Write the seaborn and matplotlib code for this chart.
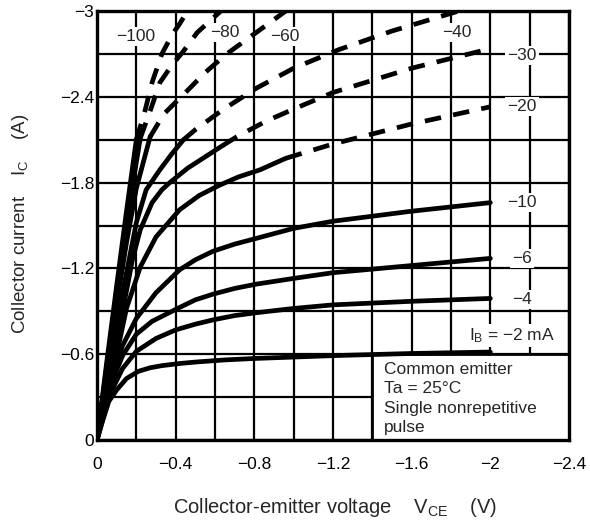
import numpy as np
import pandas as pd
import seaborn as sns
import matplotlib.pyplot as plt
from matplotlib.patches import Rectangle

sns.set_style('white')
plt.rcParams['font.family'] = ['Liberation Sans', 'DejaVu Sans']
plt.rcParams['mathtext.default'] = 'regular'

# Ic - Vce output curves, magnitudes (V, A)
ib_levels = ['-2', '-4', '-6', '-10', '-20', '-30', '-40', '-60', '-80', '-100']

v_ib2 = [0, 0.03, 0.06, 0.10, 0.15, 0.21, 0.27, 0.33, 0.42, 0.5, 0.65, 0.8, 1.0, 1.2, 1.6, 2.0]
i_ib2 = [0, 0.14, 0.27, 0.35, 0.43, 0.48, 0.505, 0.52, 0.535, 0.545, 0.56, 0.57, 0.58, 0.59, 0.605, 0.615]

v_ib4 = [0, 0.04, 0.08, 0.13, 0.2, 0.3, 0.4, 0.5, 0.59, 0.7, 0.81, 1.0, 1.2, 1.6, 2.0]
i_ib4 = [0, 0.2, 0.36, 0.5, 0.62, 0.71, 0.77, 0.81, 0.84, 0.87, 0.89, 0.92, 0.945, 0.97, 0.99]

v_ib6 = [0, 0.04, 0.08, 0.13, 0.2, 0.28, 0.41, 0.5, 0.59, 0.7, 0.81, 1.0, 1.2, 1.6, 2.0]
i_ib6 = [0, 0.22, 0.42, 0.59, 0.74, 0.83, 0.92, 0.98, 1.02, 1.06, 1.09, 1.13, 1.17, 1.22, 1.27]

v_ib10 = [0, 0.04, 0.08, 0.13, 0.2, 0.3, 0.42, 0.5, 0.59, 0.7, 0.81, 1.0, 1.2, 1.6, 2.0]
i_ib10 = [0, 0.24, 0.46, 0.66, 0.85, 1.03, 1.19, 1.26, 1.32, 1.37, 1.41, 1.48, 1.53, 1.6, 1.66]

v_ib20 = [0, 0.05, 0.1, 0.15, 0.22, 0.3, 0.42, 0.52, 0.62, 0.72, 0.83, 0.96, 1.2, 1.6, 2.0]
i_ib20 = [0, 0.3, 0.6, 0.92, 1.21, 1.42, 1.61, 1.71, 1.78, 1.84, 1.89, 1.97, 2.07, 2.21, 2.33]

v_ib30 = [0, 0.05, 0.1, 0.14, 0.18, 0.22, 0.28, 0.33, 0.37, 0.46, 0.55, 0.64,
          0.71, 0.86, 1.01, 1.2, 1.6, 1.98]
i_ib30 = [0, 0.33, 0.68, 0.97, 1.26, 1.47, 1.66, 1.75, 1.8, 1.9, 1.98, 2.06,
          2.12, 2.23, 2.32, 2.43, 2.6, 2.73]

v_ib40 = [0, 0.05, 0.1, 0.14, 0.17, 0.2, 0.25, 0.32, 0.38, 0.44,
          0.5, 0.64, 0.81, 1.0, 1.23, 1.5, 1.84]
i_ib40 = [0, 0.4, 0.8, 1.1, 1.31, 1.52, 1.75, 1.89, 2.0, 2.1,
          2.17, 2.31, 2.46, 2.6, 2.73, 2.86, 3.0]

v_ib60 = [0, 0.05, 0.1, 0.15, 0.2, 0.27, 0.34, 0.45, 0.55, 0.66, 0.78, 0.96]
i_ib60 = [0, 0.48, 0.95, 1.38, 1.76, 2.12, 2.28, 2.43, 2.57, 2.7, 2.82, 3.0]

v_ib80 = [0, 0.05, 0.1, 0.15, 0.22, 0.27, 0.32, 0.38, 0.44, 0.51, 0.63]
i_ib80 = [0, 0.52, 1.03, 1.52, 2.11, 2.3, 2.5, 2.62, 2.72, 2.85, 3.0]

v_ib100 = [0, 0.05, 0.1, 0.15, 0.2, 0.24, 0.28, 0.33, 0.38, 0.42, 0.46]
i_ib100 = [0, 0.55, 1.08, 1.6, 2.1, 2.28, 2.5, 2.7, 2.83, 2.91, 3.0]

# voltage where each curve turns dashed (None = solid all the way)
knee_v = [None, None, None, None, 0.96, 0.64, 0.44, 0.27, 0.22, 0.2]

x_ticks = [0, -0.4, -0.8, -1.2, -1.6, -2.0, -2.4]
x_ticklabels = ['0', '\u22120.4', '\u22120.8', '\u22121.2', '\u22121.6', '\u22122', '\u22122.4']
y_ticks = [0, -0.6, -1.2, -1.8, -2.4, -3.0]
y_ticklabels = ['0', '\u22120.6', '\u22121.2', '\u22121.8', '\u22122.4', '\u22123']

curves = [(v_ib2, i_ib2), (v_ib4, i_ib4), (v_ib6, i_ib6), (v_ib10, i_ib10),
          (v_ib20, i_ib20), (v_ib30, i_ib30), (v_ib40, i_ib40),
          (v_ib60, i_ib60), (v_ib80, i_ib80), (v_ib100, i_ib100)]

rows = []
for ib, (v, i), knee in zip(ib_levels, curves, knee_v):
    for vv, ii in zip(v, i):
        if knee is None or vv <= knee:
            rows.append((ib + ' solid', 'solid', -vv, -ii))
        if knee is not None and vv >= knee:
            rows.append((ib + ' dashed', 'dashed', -vv, -ii))
df = pd.DataFrame(rows, columns=['seg', 'part', 'V', 'I'])

fig = plt.figure(figsize=(5.9, 5.21), dpi=100)
ax = fig.add_axes([97 / 590, 1 - 440 / 521, 472 / 590, 429 / 521])

sns.lineplot(data=df, x='V', y='I', units='seg', estimator=None, sort=False,
             style='part', dashes={'solid': '', 'dashed': (3.5, 2.6)},
             color='black', lw=3.4, legend=False, ax=ax, zorder=4)

ax.set_xlim(0, -2.4)
ax.set_ylim(0, -3)
ax.set_xticks(x_ticks)
ax.set_xticklabels(x_ticklabels)
ax.set_xticks(np.arange(0, -2.41, -0.2), minor=True)
ax.set_yticks(y_ticks)
ax.set_yticklabels(y_ticklabels)
ax.set_yticks(np.arange(0, -3.01, -0.3), minor=True)
ax.grid(which='both', color='black', lw=1.6)
ax.set_axisbelow(True)
ax.tick_params(which='both', length=0, labelsize=12.5, colors='black')
ax.tick_params(axis='x', pad=12)
ax.tick_params(axis='y', pad=2)
for s in ax.spines.values():
    s.set_color('black')
    s.set_linewidth(2.4)
    s.set_zorder(6)

ax.add_patch(Rectangle((-1.4, 0), -1.0, -0.6, facecolor='white',
                       edgecolor='black', lw=2, zorder=3))
ax.text(-1.46, -0.545, 'Common emitter\nTa = 25\u00b0C\nSingle nonrepetitive\npulse',
        ha='left', va='top', fontsize=12.5, linespacing=1.36, zorder=5)

box = dict(facecolor='white', edgecolor='none', pad=1.5)
for x, y, s in [(-2.16, -2.69, '\u221230'), (-2.16, -2.33, '\u221220'),
                (-2.16, -1.66, '\u221210'), (-2.16, -1.27, '\u22126'),
                (-2.16, -0.98, '\u22124'), (-0.195, -2.82, '\u2212100'),
                (-0.65, -2.85, '\u221280'), (-0.955, -2.82, '\u221260'),
                (-1.83, -2.85, '\u221240')]:
    ax.text(x, y, s, ha='center', va='center', fontsize=12.5, bbox=box, zorder=5)
ax.text(-2.11, -0.73, 'I$_B$ = \u22122 mA', ha='center', va='center',
        fontsize=12.5, bbox=box, zorder=5)

ax.set_xlabel('Collector-emitter voltage    V$_{CE}$    (V)', fontsize=14.5)
ax.set_ylabel('Collector current    I$_C$    (A)', fontsize=13.5)
ax.xaxis.set_label_coords(0.505, -0.13)
ax.yaxis.set_label_coords(-0.14, 0.503)

fig.savefig('out.png', dpi=100)
